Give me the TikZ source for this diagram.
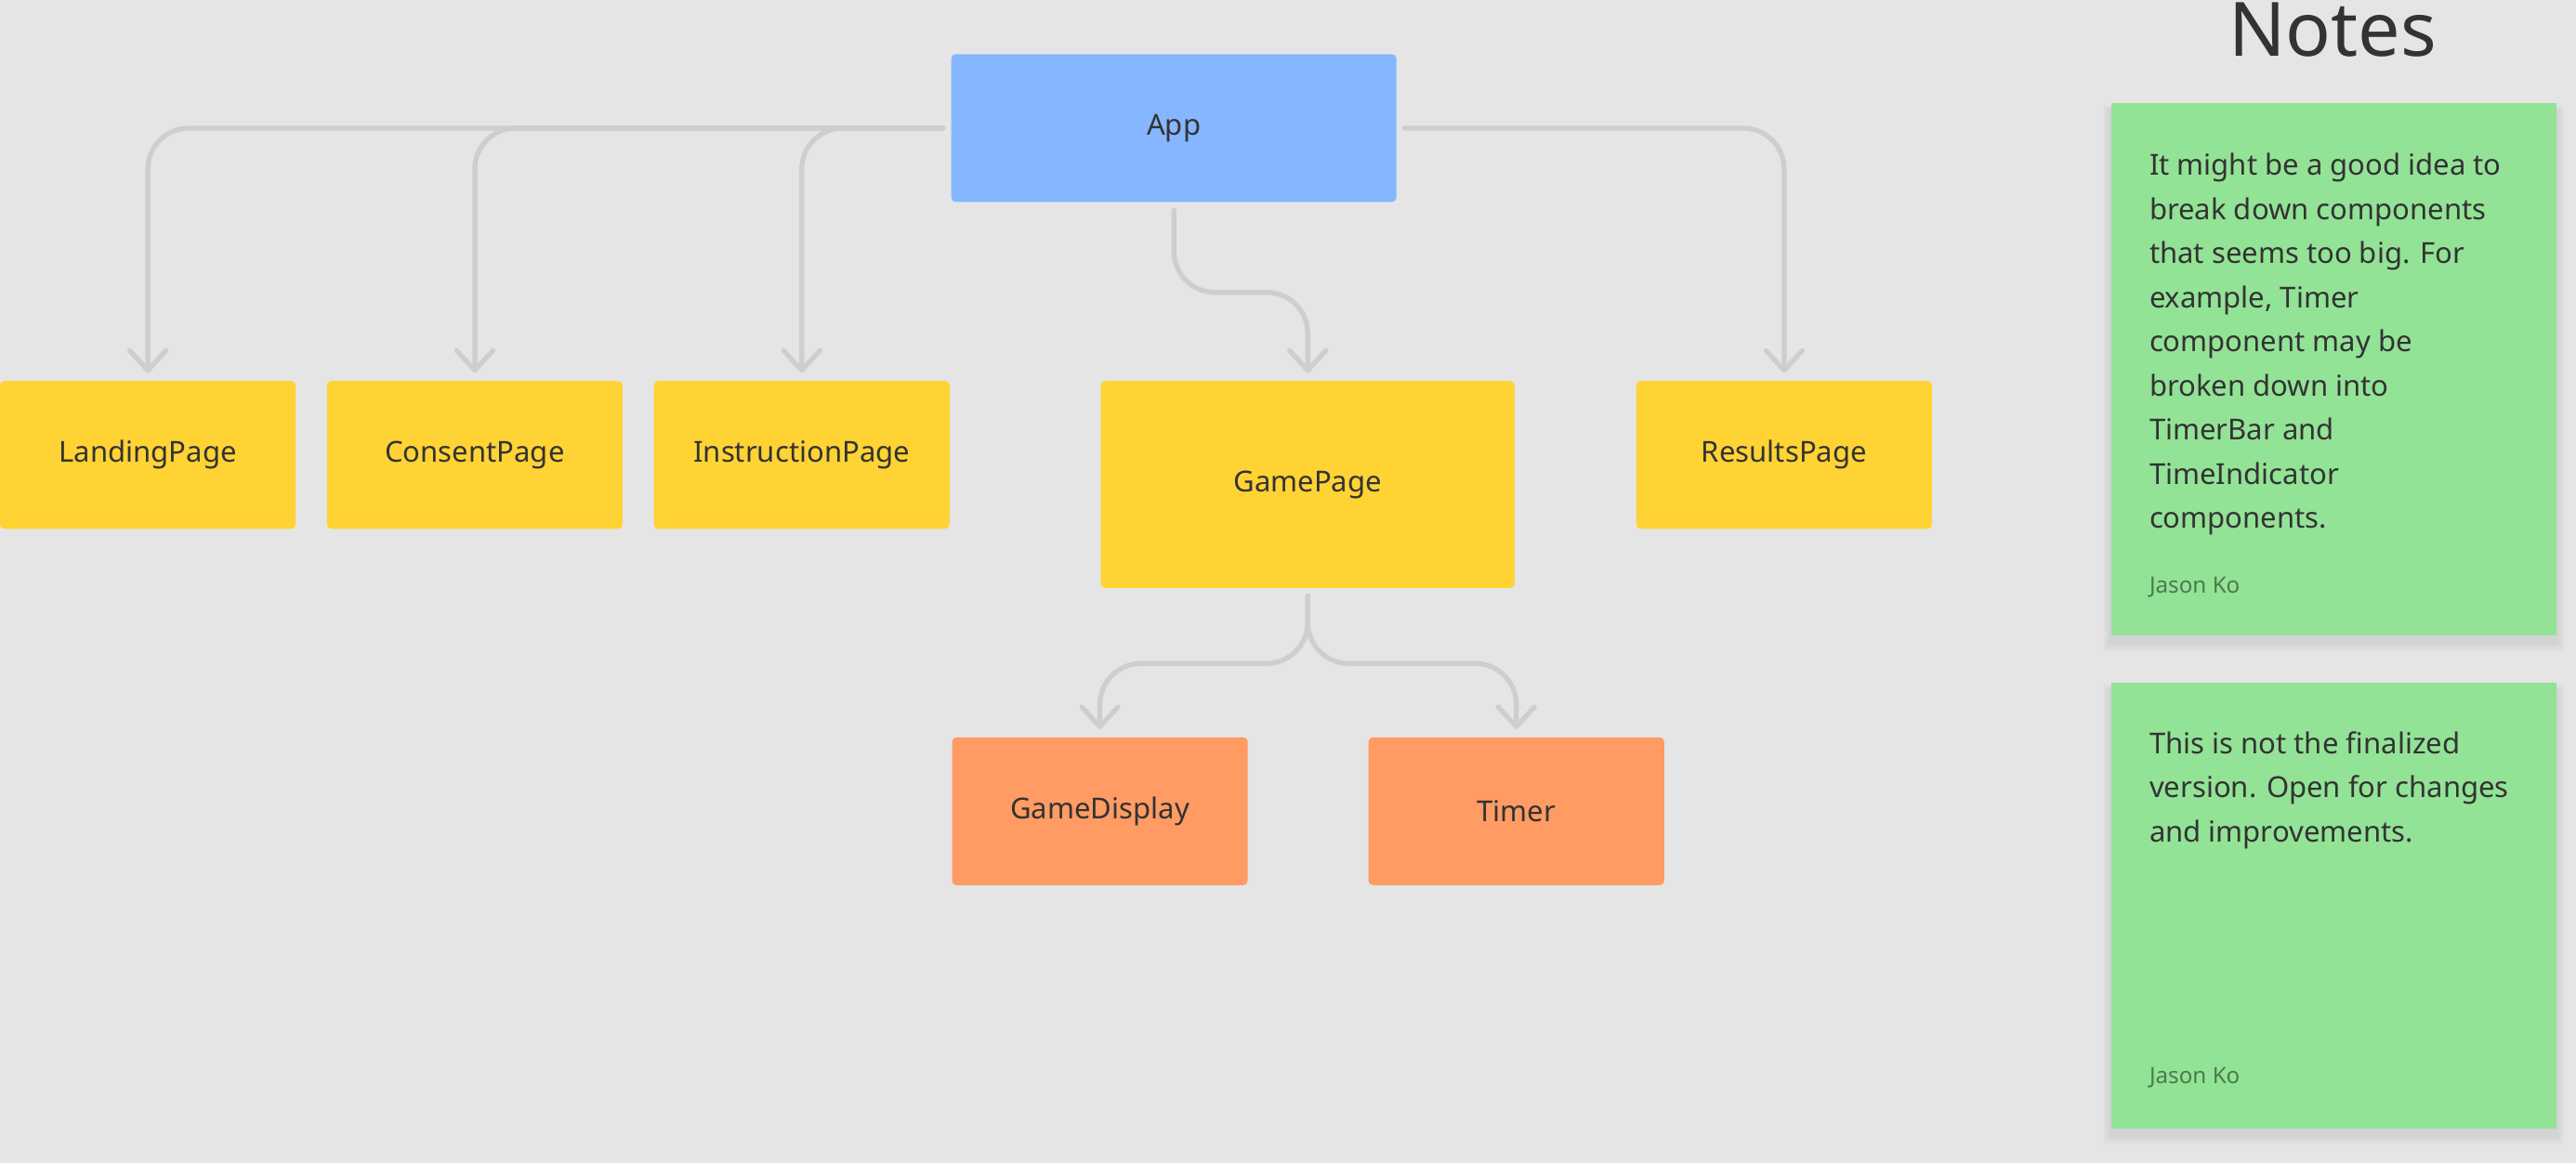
\documentclass[tikz,border=0pt]{standalone}
\usepackage{fontspec}
\setmainfont{Noto Sans}
\usetikzlibrary{arrows.meta,backgrounds}
\definecolor{canvas}{HTML}{E5E5E5}
\definecolor{appblue}{HTML}{85B6FF}
\definecolor{pageyellow}{HTML}{FFD334}
\definecolor{partorange}{HTML}{FF9B63}
\definecolor{notegreen}{HTML}{93E396}
\definecolor{linkgray}{HTML}{CFCDCE}
\definecolor{inkgray}{HTML}{333333}
\definecolor{authorgreen}{HTML}{4A7A4D}
\begin{document}
\begin{tikzpicture}[x=0.02cm, y=-0.02cm,
  comp/.style={rectangle, rounded corners=1.5pt, minimum width=3.6cm, minimum height=1.8cm, outer sep=0.1cm, text=inkgray, font=\fontsize{10}{12}\selectfont},
  pagebox/.style={comp, fill=pageyellow},
  partbox/.style={comp, fill=partorange},
  notebox/.style={rectangle, fill=notegreen, minimum width=5.42cm},
  notetext/.style={anchor=north west, inner sep=0pt, align=left, text=inkgray, font=\fontsize{10}{15.3}\selectfont},
  author/.style={anchor=base west, inner sep=0pt, text=authorgreen, font=\fontsize{7.8}{9}\selectfont},
  link/.style={draw=linkgray, line width=1.7pt, rounded corners=0.5cm, line cap=round, line join=round, -{Straight Barb[length=0.24cm, width=0.44cm, round]}}]
\useasboundingbox (0,0) rectangle (1568,708);

\node[comp, fill=appblue, minimum width=5.42cm] (App) at (714.5,78) {App};
\node[pagebox] (LandingPage) at (90,277) {LandingPage};
\node[pagebox] (ConsentPage) at (289,277) {ConsentPage};
\node[pagebox] (InstructionPage) at (488,277) {InstructionPage};
\node[pagebox, minimum width=5.04cm, minimum height=2.52cm] (GamePage) at (796,295) {GamePage};
\node[pagebox] (ResultsPage) at (1086,277) {ResultsPage};
\node[partbox] (GameDisplay) at (669.5,494) {GameDisplay};
\node[partbox] (Timer) at (923,494) {Timer};

\coordinate (AppSplit) at (714.5,178);
\coordinate (GameSplit) at (796,404);
\draw[link] (App.west) -| (LandingPage.north);
\draw[link] (App.west) -| (ConsentPage.north);
\draw[link] (App.west) -| (InstructionPage.north);
\draw[link] (App.east) -| (ResultsPage.north);
\draw[link] (App.south) -- (AppSplit) -| (GamePage.north);
\draw[link] (GamePage.south) -- (GameSplit) -| (GameDisplay.north);
\draw[link] (GamePage.south) -- (GameSplit) -| (Timer.north);

\node[anchor=base, inner sep=0pt, text=inkgray, font=\fontsize{26}{30}\selectfont] (NotesTitle) at (1420,34) {Notes};
\node[notebox, minimum height=6.48cm] (NoteA) at (1420.5,225) {};
\node[notetext] (NoteAText) at (1308,93) {It might be a good idea to\\break down components\\that seems too big. For\\example, Timer\\component may be\\broken down into\\TimerBar and\\TimeIndicator\\components.};
\node[author] (NoteAAuthor) at (1308,361) {Jason Ko};
\node[notebox, minimum height=5.42cm] (NoteB) at (1420.5,551.5) {};
\node[notetext] (NoteBText) at (1308,445) {This is not the finalized\\version. Open for changes\\and improvements.};
\node[author] (NoteBAuthor) at (1308,660) {Jason Ko};

\begin{scope}[on background layer]
\fill[canvas] (0,0) rectangle (1568,708);
\foreach \n in {NoteA,NoteB}
  \foreach \s in {1,...,6}
    \fill[black, opacity=0.013] ([shift={(-0.8*\s,5-0.6*\s)}]\n.north west) rectangle ([shift={(0.8*\s,4+\s)}]\n.south east);
\end{scope}
\end{tikzpicture}
\end{document}
